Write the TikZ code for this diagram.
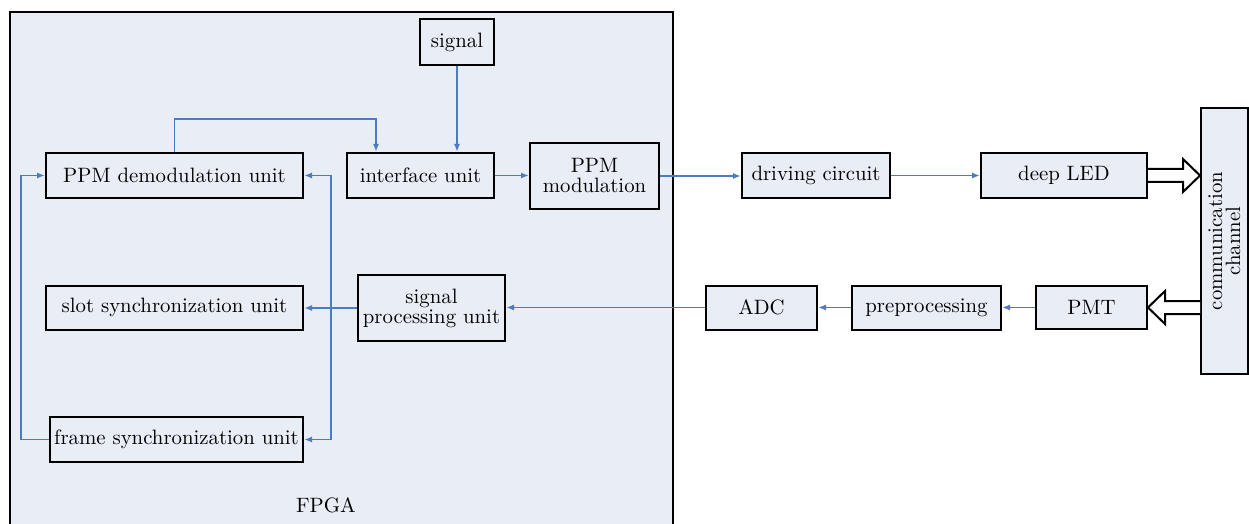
\documentclass[tikz,border=0pt]{standalone}
\usepackage{tikz}
\usetikzlibrary{arrows.meta, positioning, calc}
\definecolor{boxfill}{RGB}{233,238,246}
\definecolor{linkblue}{RGB}{74,124,192}
\tikzset{
    block/.style={rectangle, draw, line width=1pt, fill=boxfill, inner sep=2pt, align=center, font=\fontsize{10.4}{12}\selectfont},
    link/.style={draw=linkblue, line width=0.8pt, -{Latex[length=4pt, width=3pt]}},
    hollow/.style={draw, line width=1pt, fill=white, line join=miter},
}
\begin{document}
\begin{tikzpicture}[x=0.5pt, y=-0.5pt]
    \useasboundingbox (0,0) rectangle (1249,524);
    \fill[boxfill] (10,12) rectangle (673,524);
    \draw[line width=1pt] (10,524) -- (10,12) -- (673,12) -- (673,524);
    \node[font=\fontsize{10.4}{12}\selectfont] (fpga) at (326,505) {FPGA};

    \node[block, minimum width=37pt, minimum height=23pt] (sig) at (457,42) {signal};
    \node[block, minimum width=128.5pt, minimum height=22.5pt] (demod) at (174.5,175.5) {PPM demodulation unit};
    \node[block, minimum width=73.5pt, minimum height=22.5pt] (iface) at (420.5,175.5) {interface unit};
    \node[block, minimum width=64.5pt, minimum height=33pt] (mod) at (594.5,176) {PPM\\[-2pt]modulation};
    \node[block, minimum width=74pt, minimum height=22.5pt] (drive) at (816,175.5) {driving circuit};
    \node[block, minimum width=83pt, minimum height=22.5pt] (led) at (1064,175.5) {deep LED};
    \node[block, rotate=90, minimum width=133pt, minimum height=23.5pt, inner sep=0.5pt] (chan) at (1224.5,241) {communication\\[-3pt]channel};
    \node[block, minimum width=55.5pt, minimum height=21.5pt] (pmt) at (1091.5,307.5) {PMT};
    \node[block, minimum width=74.5pt, minimum height=22pt] (prep) at (926.5,307.5) {preprocessing};
    \node[block, minimum width=55.5pt, minimum height=22pt] (adc) at (761.5,307.5) {ADC};
    \node[block, minimum width=73.5pt, minimum height=33pt] (proc) at (431.5,308) {signal\\[-2pt]processing unit};
    \node[block, minimum width=128.5pt, minimum height=22pt] (slot) at (174.5,307.5) {slot synchronization unit};
    \node[block, minimum width=126.5pt, minimum height=22.5pt] (frame) at (176.5,439.5) {frame synchronization unit};

    \draw[link] (sig.south) -- (sig.south |- iface.north);
    \draw[link] (demod.north) -- ++(0,-33) -| ([xshift=-22.25pt]iface.north);
    \draw[link] (iface.east) -- (iface.east -| mod.west);
    \draw[link] (mod.east) -- (mod.east -| drive.west);
    \draw[link] (drive.east) -- (drive.east -| led.west);
    \draw[link] (pmt.west) -- (pmt.west -| prep.east);
    \draw[link] (prep.west) -- (prep.west -| adc.east);
    \draw[link] (adc.west) -- (adc.west -| proc.east);
    \draw[link] (proc.west) -- (proc.west -| slot.east);
    \coordinate (jn) at (proc.west -| 331,0);
    \draw[link] (jn) |- (demod.east);
    \draw[link] (jn) |- (frame.east);
    \draw[link] (frame.west) -- ++(-28,0) |- (demod.west);

    \draw[hollow] ([yshift=3.25pt]led.east) -- ([xshift=-8.5pt, yshift=3.25pt]led.east -| chan.north)
        -- ([xshift=-8.5pt, yshift=8.25pt]led.east -| chan.north) -- (led.east -| chan.north)
        -- ([xshift=-8.5pt, yshift=-8.25pt]led.east -| chan.north) -- ([xshift=-8.5pt, yshift=-3.25pt]led.east -| chan.north)
        -- ([yshift=-3.25pt]led.east);
    \draw[hollow] ([yshift=3.25pt]pmt.east -| chan.north) -- ([xshift=8.5pt, yshift=3.25pt]pmt.east)
        -- ([xshift=8.5pt, yshift=8.25pt]pmt.east) -- (pmt.east)
        -- ([xshift=8.5pt, yshift=-8.25pt]pmt.east) -- ([xshift=8.5pt, yshift=-3.25pt]pmt.east)
        -- ([yshift=-3.25pt]pmt.east -| chan.north);
\end{tikzpicture}
\end{document}
